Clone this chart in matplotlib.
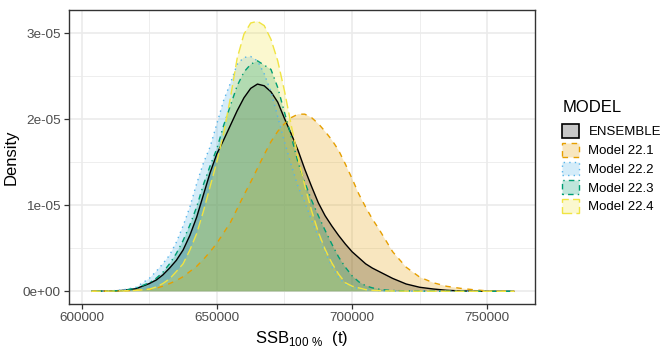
import matplotlib
matplotlib.use("Agg")
import matplotlib.pyplot as plt
from matplotlib.patches import Patch
from matplotlib.ticker import FixedLocator, FixedFormatter
import numpy as np

plt.rcParams['font.family'] = ['Liberation Sans', 'DejaVu Sans']
plt.rcParams['mathtext.fontset'] = 'custom'
plt.rcParams['mathtext.rm'] = 'Liberation Sans'

# ---- data (density, in 1e-5 units) ----
ssb = [603500, 605000, 610000, 615000, 620000, 625000, 627500, 630000, 632500, 635000,
       637500, 640000, 642500, 645000, 647500, 650000, 652500, 655000, 657500, 660000,
       662500, 665000, 667500, 670000, 672500, 675000, 677500, 680000, 682500, 685000,
       687500, 690000, 692500, 695000, 697500, 700000, 702500, 705000, 707500, 710000,
       712500, 715000, 720000, 725000, 730000, 735000, 740000, 745000, 750000, 755000,
       760000]

ensemble = [0.0, 0.001, 0.003, 0.01, 0.03, 0.09, 0.13, 0.19, 0.27, 0.36,
            0.48, 0.65, 0.86, 1.12, 1.38, 1.60, 1.76, 1.93, 2.10, 2.25,
            2.36, 2.41, 2.39, 2.32, 2.20, 2.01, 1.83, 1.64, 1.42, 1.22,
            1.03, 0.88, 0.76, 0.65, 0.55, 0.46, 0.39, 0.32, 0.27, 0.23,
            0.19, 0.15, 0.085, 0.047, 0.027, 0.012, 0.005, 0.002, 0.001, 0.0005,
            0.0]

model_221 = [0.0, 0.001, 0.002, 0.005, 0.012, 0.025, 0.035, 0.06, 0.09, 0.125,
             0.17, 0.23, 0.29, 0.37, 0.46, 0.56, 0.68, 0.80, 0.96, 1.12,
             1.27, 1.43, 1.59, 1.74, 1.86, 1.95, 2.02, 2.06, 2.06, 2.02,
             1.95, 1.86, 1.76, 1.64, 1.48, 1.31, 1.13, 0.98, 0.84, 0.72,
             0.59, 0.46, 0.28, 0.165, 0.10, 0.058, 0.035, 0.018, 0.005, 0.002,
             0.0]

model_222 = [0.0, 0.001, 0.003, 0.015, 0.045, 0.15, 0.23, 0.32, 0.42, 0.57,
             0.76, 0.98, 1.25, 1.49, 1.68, 1.95, 2.22, 2.42, 2.64, 2.72,
             2.73, 2.68, 2.53, 2.32, 2.03, 1.74, 1.47, 1.22, 1.04, 0.83,
             0.64, 0.46, 0.29, 0.16, 0.085, 0.05, 0.03, 0.02, 0.012, 0.008,
             0.005, 0.004, 0.002, 0.001, 0.001, 0.001, 0.0005, 0.0005, 0.0005, 0.0002,
             0.0]

model_223 = [0.0, 0.001, 0.003, 0.01, 0.035, 0.10, 0.15, 0.22, 0.32, 0.44,
             0.59, 0.77, 0.98, 1.24, 1.46, 1.66, 1.93, 2.16, 2.39, 2.55,
             2.64, 2.68, 2.63, 2.58, 2.37, 2.08, 1.80, 1.50, 1.27, 1.06,
             0.88, 0.71, 0.55, 0.40, 0.28, 0.18, 0.11, 0.065, 0.04, 0.025,
             0.015, 0.01, 0.005, 0.003, 0.002, 0.001, 0.001, 0.0005, 0.0005, 0.0002,
             0.0]

model_224 = [0.0, 0.001, 0.002, 0.005, 0.01, 0.025, 0.05, 0.09, 0.145, 0.23,
             0.32, 0.48, 0.67, 0.93, 1.22, 1.51, 1.84, 2.25, 2.71, 2.99,
             3.12, 3.14, 3.09, 2.93, 2.68, 2.33, 1.93, 1.56, 1.23, 0.94,
             0.69, 0.49, 0.33, 0.20, 0.10, 0.06, 0.04, 0.02, 0.012, 0.008,
             0.005, 0.004, 0.002, 0.001, 0.001, 0.001, 0.0005, 0.0005, 0.0005, 0.0002,
             0.0]

labels = ["ENSEMBLE", "Model 22.1", "Model 22.2", "Model 22.3", "Model 22.4"]
series = [ensemble, model_221, model_222, model_223, model_224]

x_ticks = [600000, 650000, 700000, 750000]
x_ticklabels = ["600000", "650000", "700000", "750000"]
y_ticks = [0, 1e-5, 2e-5, 3e-5]
y_ticklabels = ["0e+00", "1e-05", "2e-05", "3e-05"]

# ---- styles ----
colors = ["#000000", "#E69F00", "#56B4E9", "#009E73", "#F0E442"]
dashes = [None, (4, 4), (1, 3), (1, 3, 4, 3), (7, 3)]
alpha = 0.25
lw = 1.0

fig = plt.figure(figsize=(6.63, 3.48), dpi=100)
ax = fig.add_axes([0.1045, 0.1264, 0.7024, 0.8463])

x = np.array(ssb, dtype=float)
for lab, vals, col, d in zip(labels, series, colors, dashes):
    y = np.array(vals) * 1e-5
    ax.fill_between(x, 0, y, facecolor=col, alpha=alpha, linewidth=0, zorder=2)
    line, = ax.plot(x, y, color=col, lw=lw, zorder=3, solid_capstyle='butt')
    if d is not None:
        line.set_dashes(d)

ax.set_xlim(595414, 767630)
ax.set_ylim(-0.1477e-5, 3.277e-5)

ax.xaxis.set_major_locator(FixedLocator(x_ticks))
ax.xaxis.set_major_formatter(FixedFormatter(x_ticklabels))
ax.yaxis.set_major_locator(FixedLocator(y_ticks))
ax.yaxis.set_major_formatter(FixedFormatter(y_ticklabels))
ax.xaxis.set_minor_locator(FixedLocator([625000, 675000, 725000]))
ax.yaxis.set_minor_locator(FixedLocator([0.5e-5, 1.5e-5, 2.5e-5]))

ax.grid(True, which='major', color='#EBEBEB', lw=1.2, zorder=0)
ax.grid(True, which='minor', color='#EBEBEB', lw=0.6, zorder=0)
ax.set_axisbelow(True)
ax.tick_params(which='minor', length=0)
ax.tick_params(which='major', length=3.5, width=0.9, color='#333333',
               labelsize=9.7, labelcolor='#4D4D4D', pad=2.5)
for s in ax.spines.values():
    s.set_color('#333333')
    s.set_linewidth(1.0)
    s.set_zorder(5)

ax.set_xlabel('SSB$_{\\mathregular{100\\ \\%}}$  (t)', fontsize=12, color='black', labelpad=3)
ax.set_ylabel('Density', fontsize=12, color='black', labelpad=3)

handles = []
for col, d in zip(colors, dashes):
    fc = matplotlib.colors.to_rgba(col, alpha)
    if col == "#000000":
        fc = (0.78, 0.78, 0.78, 1.0)
    h = Patch(facecolor=fc, edgecolor=col, linewidth=1.2 if d is None else 1.0,
              linestyle='-' if d is None else (0, d))
    handles.append(h)

fig.text(563 / 663, 1 - 107 / 348, 'MODEL', fontsize=12, ha='left', va='center')
leg = fig.legend(handles, labels, loc='upper left',
                 bbox_to_anchor=(562 / 663, 1 - 124 / 348), frameon=False,
                 fontsize=9.5, handlelength=1.3, handleheight=1.25,
                 labelspacing=0.33, handletextpad=0.7, borderpad=0, borderaxespad=0)

fig.savefig('out.png', dpi=100)
